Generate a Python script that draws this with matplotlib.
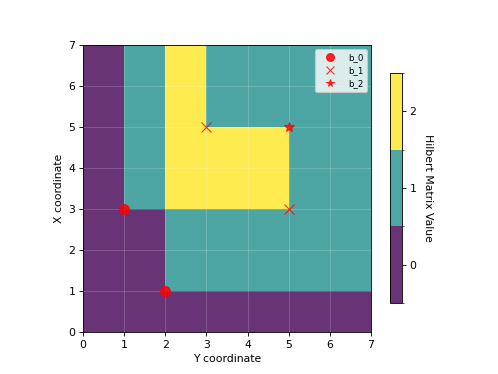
import numpy as np
import matplotlib
matplotlib.use('Agg')
import matplotlib.pyplot as plt
from matplotlib.colors import ListedColormap, BoundaryNorm

# grid values, rows = X coordinate 0..6, cols = Y coordinate 0..6
grid = np.array([
    [0, 0, 0, 0, 0, 0, 0],
    [0, 0, 1, 1, 1, 1, 1],
    [0, 0, 1, 1, 1, 1, 1],
    [0, 1, 2, 2, 2, 1, 1],
    [0, 1, 2, 2, 2, 1, 1],
    [0, 1, 2, 1, 1, 1, 1],
    [0, 1, 2, 1, 1, 1, 1],
])

# marker points (Y coordinate, X coordinate)
b0_y = [1, 2]
b0_x = [3, 1]
b1_y = [3, 5]
b1_x = [5, 3]
b2_y = [5]
b2_x = [5]

cbar_ticks = [0, 1, 2]

cmap = ListedColormap(plt.get_cmap('viridis')(np.linspace(0, 1, 3)))
norm = BoundaryNorm([-0.5, 0.5, 1.5, 2.5], 3)

fig = plt.figure(figsize=(498 / 78, 374 / 78), dpi=78)
ax = fig.add_axes([83 / 498, 1 - 332 / 374, 288 / 498, 287 / 374])
im = ax.imshow(grid, origin='lower', extent=[0, 7, 0, 7], cmap=cmap, norm=norm,
               alpha=0.8, interpolation='nearest', aspect='auto')

ax.plot(b0_y, b0_x, 'o', color='red', markersize=9, alpha=0.85, linestyle='none', label='b_0')
ax.plot(b1_y, b1_x, 'x', color='red', markersize=9, alpha=0.8, linestyle='none', label='b_1')
ax.plot(b2_y, b2_x, '*', color='red', markersize=9, alpha=0.8, linestyle='none', label='b_2')

ax.set_xlim(0, 7)
ax.set_ylim(0, 7)
ax.set_xticks(range(8))
ax.set_yticks(range(8))
ax.grid(True, color='white', alpha=0.2)
ax.set_xlabel('Y coordinate')
ax.set_ylabel('X coordinate')
ax.legend(loc='upper right', fontsize=8, markerscale=0.8, handlelength=2.6)

cax = fig.add_axes([390 / 498, 1 - 303 / 374, 12 / 498, 230 / 374])
cbar = fig.colorbar(im, cax=cax, ticks=cbar_ticks)
cbar.set_label('Hilbert Matrix Value', rotation=270, labelpad=15)

fig.savefig('out.png', dpi=78)
